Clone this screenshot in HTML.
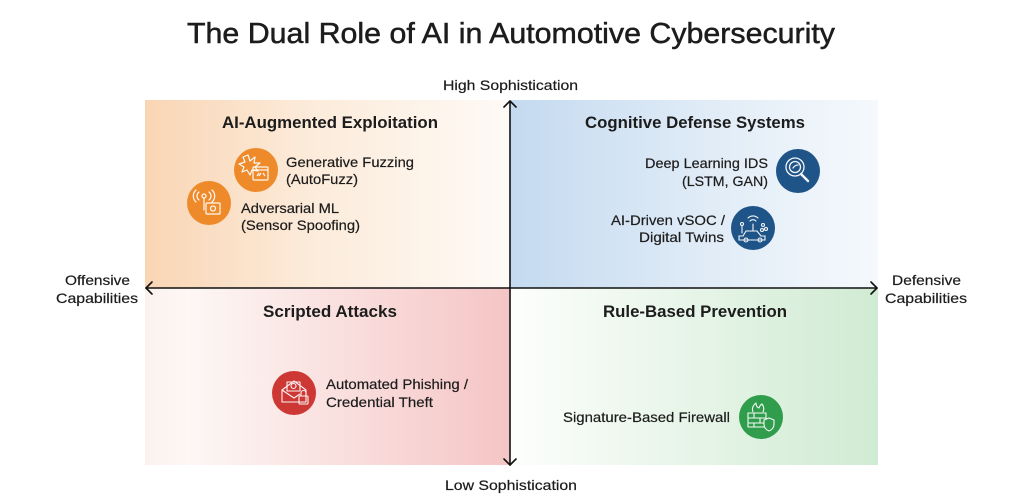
<!DOCTYPE html>
<html><head><meta charset="utf-8"><style>
html,body{margin:0;padding:0;background:#fff;}
svg{display:block;}
text{font-family:"Liberation Sans",Arial,sans-serif;fill:#1c1c1c;}
</style></head><body>
<svg width="1024" height="499" viewBox="0 0 1024 499" xmlns="http://www.w3.org/2000/svg">
<defs>
<linearGradient id="gTL" x1="0" y1="0" x2="1" y2="0">
<stop offset="0" stop-color="#f9d5b4"/><stop offset="0.45" stop-color="#fcebda"/><stop offset="1" stop-color="#fefaf6"/>
</linearGradient>
<linearGradient id="gTR" x1="0" y1="0" x2="1" y2="0">
<stop offset="0" stop-color="#c4daf0"/><stop offset="0.55" stop-color="#e1ecf7"/><stop offset="1" stop-color="#f5f9fc"/>
</linearGradient>
<linearGradient id="gBL" x1="0" y1="0" x2="1" y2="0">
<stop offset="0" stop-color="#fbf2ef"/><stop offset="0.12" stop-color="#fdf7f5"/><stop offset="1" stop-color="#f5c5c5"/>
</linearGradient>
<linearGradient id="gBR" x1="0" y1="0" x2="1" y2="0">
<stop offset="0" stop-color="#fdfefd"/><stop offset="0.15" stop-color="#f6fbf6"/><stop offset="1" stop-color="#d0ebd3"/>
</linearGradient>
</defs>

<!-- quadrants -->
<rect x="145" y="100" width="365" height="188" fill="url(#gTL)"/>
<rect x="510" y="100" width="368" height="188" fill="url(#gTR)"/>
<rect x="145" y="288" width="365" height="177" fill="url(#gBL)"/>
<rect x="510" y="288" width="368" height="177" fill="url(#gBR)"/>

<!-- title -->
<text x="187" y="43" font-size="29" textLength="648" lengthAdjust="spacingAndGlyphs" stroke="#1c1c1c" stroke-width="0.5">The Dual Role of AI in Automotive Cybersecurity</text>

<!-- axis labels -->
<g stroke="#1c1c1c" stroke-width="0.2">
<text x="443" y="90" font-size="14" textLength="135" lengthAdjust="spacingAndGlyphs">High Sophistication</text>
<text x="445" y="490" font-size="14" textLength="132" lengthAdjust="spacingAndGlyphs">Low Sophistication</text>
<text x="65" y="285" font-size="14" textLength="65" lengthAdjust="spacingAndGlyphs">Offensive</text>
<text x="56" y="303" font-size="14" textLength="82" lengthAdjust="spacingAndGlyphs">Capabilities</text>
<text x="892" y="285" font-size="14" textLength="69" lengthAdjust="spacingAndGlyphs">Defensive</text>
<text x="885" y="303" font-size="14" textLength="82" lengthAdjust="spacingAndGlyphs">Capabilities</text>
</g>

<!-- axes -->
<g stroke="#111" stroke-width="1.6" fill="none" stroke-linecap="round" stroke-linejoin="round">
<line x1="510" y1="101" x2="510" y2="465"/>
<line x1="146" y1="288" x2="877" y2="288"/>
<polyline points="504,107 510,101 516,107"/>
<polyline points="504,459 510,465 516,459"/>
<polyline points="152,282 146,288 152,294"/>
<polyline points="871,282 877,288 871,294"/>
</g>

<!-- quadrant headings -->
<text x="222" y="128" font-size="17" font-weight="bold" textLength="216" lengthAdjust="spacingAndGlyphs">AI-Augmented Exploitation</text>
<text x="585" y="128" font-size="17" font-weight="bold" textLength="220" lengthAdjust="spacingAndGlyphs">Cognitive Defense Systems</text>
<text x="263" y="317" font-size="17" font-weight="bold" textLength="134" lengthAdjust="spacingAndGlyphs">Scripted Attacks</text>
<text x="603" y="317" font-size="17" font-weight="bold" textLength="184" lengthAdjust="spacingAndGlyphs">Rule-Based Prevention</text>

<!-- items text -->
<g font-size="14" stroke="#1c1c1c" stroke-width="0.2">
<text x="286" y="167" textLength="128" lengthAdjust="spacingAndGlyphs">Generative Fuzzing</text>
<text x="286" y="184" textLength="72" lengthAdjust="spacingAndGlyphs">(AutoFuzz)</text>
<text x="241" y="213" textLength="98" lengthAdjust="spacingAndGlyphs">Adversarial ML</text>
<text x="241" y="230" textLength="119" lengthAdjust="spacingAndGlyphs">(Sensor Spoofing)</text>
<text x="645" y="168" textLength="123" lengthAdjust="spacingAndGlyphs">Deep Learning IDS</text>
<text x="682" y="186" textLength="86" lengthAdjust="spacingAndGlyphs">(LSTM, GAN)</text>
<text x="611" y="225" textLength="114" lengthAdjust="spacingAndGlyphs">AI-Driven vSOC /</text>
<text x="639" y="242" textLength="85" lengthAdjust="spacingAndGlyphs">Digital Twins</text>
<text x="326" y="389" textLength="142" lengthAdjust="spacingAndGlyphs">Automated Phishing /</text>
<text x="326" y="407" textLength="107" lengthAdjust="spacingAndGlyphs">Credential Theft</text>
<text x="563" y="422" textLength="167" lengthAdjust="spacingAndGlyphs">Signature-Based Firewall</text>
</g>

<!-- icons -->
<!-- Generative Fuzzing -->
<circle cx="256" cy="170" r="22" fill="#ee8a2a"/>
<g stroke="#fff" stroke-width="1.2" fill="none" stroke-linejoin="round" opacity="0.95">
<polygon points="248,155 250,161 255,157 254,163 260,163 255,167 258,171 252,170 250,175 247,170 242,172 244,167 239,164 245,162 243,157"/>
<rect x="253" y="167" width="15" height="13" rx="1"/>
<line x1="253" y1="170" x2="268" y2="170"/>
<path d="M257,176 l2,-3 M259,176 l2,-3 M263,173 l2,3"/>
</g>
<!-- Adversarial ML -->
<circle cx="209" cy="203" r="22" fill="#ee8a2a"/>
<g stroke="#fff" stroke-width="1.2" fill="none" stroke-linecap="round" opacity="0.95">
<path d="M199,192 a5,5 0 0,0 0,8 M196,190 a8,8 0 0,0 0,12 M209,192 a5,5 0 0,1 0,8 M212,190 a8,8 0 0,1 0,12"/>
<circle cx="204" cy="196" r="2"/>
<line x1="204" y1="198" x2="204" y2="210"/>
<rect x="206" y="203" width="14" height="11" rx="1"/>
<circle cx="213" cy="208.5" r="2.5"/>
</g>
<!-- Deep Learning IDS -->
<circle cx="798" cy="171" r="22" fill="#1f5488"/>
<g stroke="#fff" stroke-width="1.3" fill="none" stroke-linecap="round" opacity="0.95">
<circle cx="795" cy="167" r="9"/>
<circle cx="795" cy="167" r="5.5"/>
<line x1="801" y1="174" x2="808" y2="181" stroke-width="2.4"/>
<path d="M793,168 q2,-3 5,-3"/>
</g>
<!-- vSOC -->
<circle cx="753" cy="228" r="22" fill="#1f5488"/>
<g stroke="#fff" stroke-width="1.1" fill="none" stroke-linecap="round" opacity="0.95">
<path d="M743,236 l3,-5 h11 l4,5 h4 v4 h-26 v-4 z"/>
<circle cx="746" cy="240" r="2"/><circle cx="760" cy="240" r="2"/>
<path d="M748,218 a7,7 0 0,1 10,0 M750,221 a4,4 0 0,1 6,0"/>
<line x1="753" y1="224" x2="753" y2="231"/>
<circle cx="742" cy="224" r="1.5"/><line x1="742" y1="226" x2="742" y2="233"/>
<circle cx="763" cy="225" r="1.5"/><circle cx="766" cy="229" r="1.5"/><circle cx="762" cy="230" r="1.5"/>
</g>
<!-- Phishing -->
<circle cx="294" cy="393" r="22" fill="#cd3834"/>
<g stroke="#fff" stroke-width="1.1" fill="none" stroke-linejoin="round" opacity="0.95">
<path d="M282,390 l12,-9 l12,9 v12 h-24 z"/>
<path d="M282,390 l12,8 l6,-4"/>
<rect x="287" y="382" width="13" height="9"/>
<circle cx="293.5" cy="386" r="2.5"/>
<rect x="299" y="396" width="9" height="8" rx="1"/>
<path d="M301,396 v-3 a2.5,2.5 0 0,1 5,0 v3"/>
</g>
<!-- Firewall -->
<circle cx="761" cy="417" r="22" fill="#2f9d4b"/>
<g stroke="#fff" stroke-width="1.1" fill="none" stroke-linejoin="round" opacity="0.95">
<rect x="748" y="413" width="18" height="14"/>
<path d="M748,418 h18 M748,423 h18 M754,413 v5 M760,418 v5 M754,423 v4"/>
<path d="M753,412 q-2,-5 3,-9 q0,4 3,5 q1,-3 3,-4 q3,4 1,8"/>
<path d="M764,420 l5,-2 l5,2 v4 q0,5 -5,7 q-5,-2 -5,-7 z" fill="#2f9d4b"/>
</g>
</svg>
</body></html>
